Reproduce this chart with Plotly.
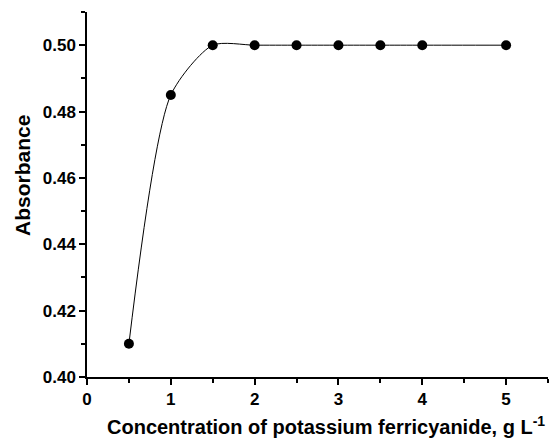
import plotly.graph_objects as go

conc = [0.5, 1.0, 1.5, 2.0, 2.5, 3.0, 3.5, 4.0, 5.0]
absorbance = [0.410, 0.485, 0.500, 0.500, 0.500, 0.500, 0.500, 0.500, 0.500]

x_ticks = [0, 1, 2, 3, 4, 5]
x_tick_labels = ["0", "1", "2", "3", "4", "5"]
y_ticks = [0.40, 0.42, 0.44, 0.46, 0.48, 0.50]
y_tick_labels = ["0.40", "0.42", "0.44", "0.46", "0.48", "0.50"]
x_title = "Concentration of potassium ferricyanide, g L<sup>-1</sup>"
y_title = "Absorbance"

font = "Liberation Sans, Arial, sans-serif"

fig = go.Figure()
fig.add_trace(go.Scatter(
    x=conc, y=absorbance, mode="lines+markers",
    line=dict(color="black", width=1, shape="spline", smoothing=0.7),
    marker=dict(color="black", size=10),
    showlegend=False,
))

fig.update_layout(
    width=560, height=441,
    margin=dict(l=87, r=12, t=12, b=64),
    paper_bgcolor="white", plot_bgcolor="white",
    font=dict(family=font, color="black"),
)
fig.update_xaxes(
    range=[0, 5.5], tickvals=x_ticks, ticktext=["<b>%s</b>" % t for t in x_tick_labels],
    showgrid=False, zeroline=False, automargin=False,
    showline=True, linecolor="black", linewidth=1.5,
    ticks="outside", ticklen=6, tickwidth=1.5, tickcolor="black",
    minor=dict(dtick=0.5, tick0=0, ticks="outside", ticklen=4, tickwidth=1.5, tickcolor="black", showgrid=False),
    tickfont=dict(size=17, family=font),
)
fig.update_yaxes(
    range=[0.40, 0.51], tickvals=y_ticks, ticktext=["<b>%s</b>" % t for t in y_tick_labels],
    showgrid=False, zeroline=False, automargin=False,
    showline=True, linecolor="black", linewidth=1.5,
    ticks="outside", ticklen=6, tickwidth=1.5, tickcolor="black",
    minor=dict(dtick=0.01, tick0=0.40, ticks="outside", ticklen=4, tickwidth=1.5, tickcolor="black", showgrid=False),
    tickfont=dict(size=17, family=font),
)

fig.add_annotation(
    text="<b>%s</b>" % x_title, xref="paper", yref="paper",
    x=(326 - 87) / 461, y=(377 - 440) / 365, xanchor="center", yanchor="bottom",
    showarrow=False, font=dict(size=20, family=font, color="black"),
)
fig.add_annotation(
    text="<b>%s</b>" % y_title, xref="paper", yref="paper", textangle=-90,
    x=(22 - 87) / 461, y=(377 - 176) / 365, xanchor="center", yanchor="middle",
    showarrow=False, font=dict(size=21, family=font, color="black"),
)

fig.write_html("out.html", config={"displayModeBar": False},
               post_script="document.body.style.margin='0';document.body.style.overflow='hidden';")
